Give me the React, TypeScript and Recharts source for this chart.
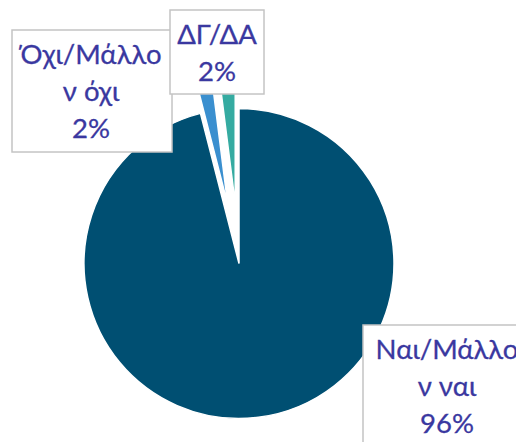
import React from "react";
import { PieChart, Pie, Cell } from "recharts";

// clockwise from 12 o'clock
const categories = ["Ναι/Μάλλον ναι", "Όχι/Μάλλον όχι", "ΔΓ/ΔΑ"];
const labelText = [["Ναι/Μάλλο", "ν ναι"], ["Όχι/Μάλλο", "ν όχι"], ["ΔΓ/ΔΑ"]];
const shares = [96, 2, 2];
const colors = ["#004f72", "#3a8fcf", "#35aba1"];
const exploded = [false, true, true];

// where the label boxes sit (positioned by hand in the original)
const labelBoxes = [
  { x: 363, y: 325, w: 168, h: 130, mid: 447, base: 359 },
  { x: 12, y: 30, w: 160, h: 122, mid: 91, base: 64 },
  { x: 170, y: 10, w: 94, h: 84, mid: 217, base: 44 },
];

const CX = 239;
const CY = 263.5;
const R = 155;
const EXPLODE = 60;
const LINE_GAP = 37;

const data = categories.map((name, i) => ({ name, value: shares[i] }));
const total = shares.reduce((a, b) => a + b, 0);

// mid angle of each slice, recharts convention (deg, counter-clockwise from 3 o'clock)
const midAngles = shares.map((v, i) => {
  const before = shares.slice(0, i).reduce((a, b) => a + b, 0);
  const start = 90 - (360 * before) / total;
  const end = 90 - (360 * (before + v)) / total;
  return (start + end) / 2;
});

const renderLabel = (props: any) => {
  const name = props.name ?? props.payload?.name;
  const i = categories.indexOf(name);
  if (i < 0) return null;
  const box = labelBoxes[i];
  const pct = Math.round((props.percent ?? shares[i] / total) * 100);
  const lines = [...labelText[i], `${pct}%`];
  return (
    <g key={`lbl-${i}`}>
      <rect
        x={box.x}
        y={box.y}
        width={box.w}
        height={box.h}
        fill="#ffffff"
        stroke="#c4c4c4"
        strokeWidth={1.5}
      />
      <text
        textAnchor="middle"
        fill="#3a38a0"
        stroke="#3a38a0"
        strokeWidth={0.3}
        style={{ fontFamily: "Lato, 'Open Sans', sans-serif", fontSize: 27.5 }}
      >
        {lines.map((t, k) => (
          <tspan key={k} x={box.mid} y={box.base + k * LINE_GAP}>
            {t}
          </tspan>
        ))}
      </text>
    </g>
  );
};

export default function App() {
  return (
    <div style={{ position: "absolute", left: 0, top: 0, background: "#fff" }}>
      <PieChart width={516} height={442} margin={{ top: 0, right: 0, bottom: 0, left: 0 }}>
        {/* pulled-out slices, one pie each, shifted along the slice's mid angle */}
        {exploded.map((ex, i) => {
          if (!ex) return null;
          const rad = (midAngles[i] * Math.PI) / 180;
          return (
            <Pie
              key={`ex-${i}`}
              data={data}
              dataKey="value"
              nameKey="name"
              cx={CX + EXPLODE * Math.cos(rad)}
              cy={CY - EXPLODE * Math.sin(rad)}
              outerRadius={R}
              startAngle={90}
              endAngle={-270}
              isAnimationActive={false}
              label={false}
              labelLine={false}
            >
              {data.map((d, k) => (
                <Cell
                  key={d.name}
                  fill={k === i ? colors[k] : "none"}
                  stroke={k === i ? "#ffffff" : "none"}
                  strokeWidth={1.5}
                />
              ))}
            </Pie>
          );
        })}
        <Pie
          data={data}
          dataKey="value"
          nameKey="name"
          cx={CX}
          cy={CY}
          outerRadius={R}
          startAngle={90}
          endAngle={-270}
          isAnimationActive={false}
          label={renderLabel}
          labelLine={false}
        >
          {data.map((d, k) => (
            <Cell
              key={d.name}
              fill={exploded[k] ? "none" : colors[k]}
              stroke={exploded[k] ? "none" : "#ffffff"}
              strokeWidth={1.5}
            />
          ))}
        </Pie>
      </PieChart>
    </div>
  );
}
